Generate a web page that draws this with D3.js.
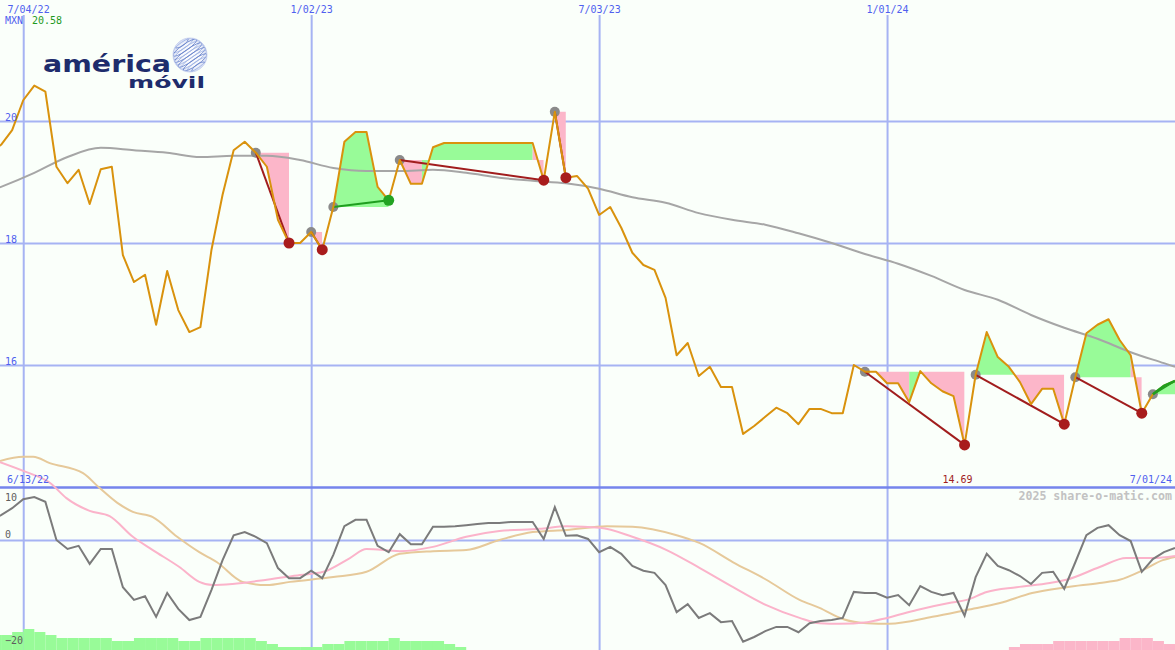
<!DOCTYPE html>
<html><head><meta charset="utf-8">
<script src="https://cdn.jsdelivr.net/npm/d3@7"></script>
<style>body{margin:0;background:#fafffa}svg{display:block}</style>
</head><body><svg id="c" width="1175" height="650"></svg>
<script>
// ---------- data ----------
const startDate = "2022-06-13";
const endDate = "2024-07-01";
const currency = "MXN";
const tickDates = ["2022-07-04","2023-01-02","2023-07-03","2024-01-01"];
const priceTicks = [16,18,20];
const oscTicks = [10,0,-20];

// weekly closes (week 0 = 6/13/22)
const closes = [
 19.49,19.61,19.85,20.34,20.58,20.48,19.25,18.98,19.20,18.64,
 19.21,19.25,17.80,17.36,17.48,16.66,17.54,16.90,16.54,16.62,
 17.89,18.79,19.52,19.66,19.48,19.25,18.38,18.00,18.00,18.18,
 17.89,18.59,19.66,19.82,19.82,18.92,18.70,19.36,18.97,18.97,
 19.57,19.64,19.64,19.64,19.64,19.64,19.64,19.64,19.64,19.64,
 19.03,20.15,19.07,19.10,18.89,18.46,18.59,18.25,17.84,17.64,
 17.56,17.10,16.16,16.36,15.82,15.97,15.64,15.64,14.87,15.00,
 15.15,15.30,15.21,15.03,15.28,15.28,15.21,15.21,16.00,15.89,
 15.89,15.70,15.70,15.39,15.90,15.70,15.57,15.49,14.69,15.84,
 16.54,16.13,15.97,15.72,15.36,15.61,15.61,15.03,15.80,16.52,
 16.66,16.75,16.41,16.16,15.21,15.52,15.66,15.74];

// long moving average (read at sample weeks)
const maWeeks  = [0,1,4,7,10,13,16,19,22,25,28,31,34,37,40,43,46,49,52,55,58,61,64,67,70,73,76,79,82,85,88,91,94,97,100,103,106,107];
const maValues = [18.85,18.92,19.15,19.41,19.56,19.52,19.48,19.41,19.43,19.43,19.36,19.23,19.18,19.18,19.20,19.15,19.07,19.02,18.98,18.89,18.75,18.66,18.49,18.38,18.30,18.16,18.00,17.82,17.66,17.46,17.23,17.07,16.82,16.61,16.43,16.21,16.03,15.97];

// trades: entry week, exit week
const tradeEntry = [24,29,31,37,51,79,89,98,105];
const tradeExit  = [27,30,36,50,52,88,97,104,107];
// shaded spans inside trades (trade #, from week, to week, rising?)
const spanTrade = [0,1,2,3,3,3,4,5,5,5,6,6,7,7,8];
const spanFrom  = [24,29,31,37,39,49,51,79,83,84,89,92.5,98,103,105];
const spanTo    = [27,30,36,39,49,50,52,83,84,88,92.5,97,103,104,107];
const spanUp    = [0,0,1,0,1,0,0,0,1,0,1,0,1,0,1];

// lower panel: oscillator (weekly)
const oscillator = [
 3.8,4.7,6.0,7.7,8.1,7.2,0,-1.7,-1.1,-4.5,
 -1.7,-1.7,-8.9,-11.3,-10.6,-14.5,-10.0,-13.0,-15.1,-14.5,
 -9.4,-3.8,0.9,1.5,0.6,-0.6,-5.3,-7.2,-7.2,-5.8,
 -7.2,-2.8,2.6,3.8,3.8,-1.1,-2.3,1.1,-0.8,-0.8,
 2.5,2.5,2.6,2.8,3.0,3.2,3.2,3.4,3.4,3.4,
 0.2,6.2,0.8,0.9,0.2,-2.3,-1.3,-2.6,-4.9,-5.8,
 -6.2,-8.5,-13.6,-12.1,-14.7,-13.8,-15.5,-15.3,-19.2,-18.3,
 -17.2,-16.4,-16.4,-17.4,-15.7,-15.3,-15.1,-14.7,-9.8,-10.0,
 -10.0,-10.9,-10.4,-12.3,-8.7,-9.8,-10.4,-10.0,-14.3,-7.0,
 -2.6,-4.9,-5.7,-6.8,-8.3,-6.2,-6.0,-9.2,-4.2,0.9,
 2.3,2.8,0.9,-0.2,-6.0,-3.6,-2.3,-1.5];
// fast signal (pink)
const fastWeeks  = [0.9,3.3,5.4,6.9,9.0,10.8,12.9,14.7,17.1,18.9,20.1,21.9,25.0,28.0,30.1,32.5,34.0,37.0,40.0,43.0,46.0,49.6,52.1,55.1,58.0,61.1,64.1,67.1,70.1,73.1,74.9,76.7,79.2,81.0,83.7,86.6,88.2,90.0,92.7,95.7,97.2,100.2,102.6,105.0,107.0];
const fastValues = [14.7,12.8,10.8,7.9,5.5,4.5,0.6,-1.9,-5.1,-7.9,-8.5,-8.3,-7.5,-6.6,-6.0,-3.4,-1.7,-2.1,-1.3,0.6,1.7,2.1,2.6,2.3,0.6,-1.9,-5.3,-8.9,-12.3,-14.7,-15.7,-15.8,-15.5,-14.7,-13.2,-11.9,-11.3,-9.8,-8.9,-8.1,-7.5,-5.1,-3.4,-3.4,-3.0];
// slow signal (tan)
const slowWeeks  = [0.9,3.0,3.9,5.4,8.4,9.9,11.5,12.9,14.7,16.9,18.9,20.5,22.8,25.0,27.1,31.0,34.0,37.0,40.0,43.0,46.0,49.0,52.1,55.7,58.0,62.0,64.1,67.1,70.1,73.1,74.9,77.0,79.2,81.2,85.1,88.2,91.2,94.1,97.2,100.2,102.0,104.1,105.9,107.0];
const slowValues = [14.9,15.7,15.7,14.5,12.6,9.8,7.0,5.3,4.3,0.6,-2.3,-4.2,-7.9,-8.5,-7.9,-7.0,-6.0,-2.6,-2.1,-1.9,0,1.5,1.9,2.6,2.5,0.9,-0.6,-4.2,-7.5,-11.3,-12.8,-14.9,-15.7,-15.8,-14.5,-13.2,-11.9,-10.0,-8.9,-8.1,-7.5,-5.7,-3.8,-3.2];
// bottom strength bars (weekly, + green / - pink)
const strength = [
 5,5,6,7,6,5,4,4,4,4,
 4,3,3,4,4,4,4,3,3,4,
 4,4,4,4,3,2,1,1,1,1,
 2,2,3,3,3,3,4,3,3,3,
 3,2,1,0,0,0,0,0,0,0,
 0,0,0,0,0,0,0,0,0,0,
 0,0,0,0,0,0,0,0,0,0,
 0,0,0,0,0,0,0,0,0,0,
 0,0,0,0,0,0,0,0,0,0,
 0,0,-1,-2,-2,-2,-3,-3,-3,-3,
 -3,-3,-4,-4,-4,-3,-2,-2];

// ---------- drawing ----------
const W = 1175, H = 650;
const svg = d3.select("#c");
const defs = svg.append("defs");
svg.append("rect").attr("width", W).attr("height", H).attr("fill", "#fafffa");

const parse = d3.utcParse("%Y-%m-%d");
const x = d3.scaleUtc().domain([parse(startDate), parse(endDate)]).range([-10, W]);
const t0 = parse(startDate).getTime();
const wk = i => new Date(t0 + i * 7 * 864e5);
const xi = i => x(wk(i));
const y = d3.scaleLinear().domain([16, 20]).range([365, 121]);
const yo = d3.scaleLinear().domain([-20, 10]).range([646, 487]);
const yb = d3.scaleLinear().domain([0, 7]).range([H, H - 21]);

const MONO = "DejaVu Sans Mono";
const BLUE = "#4f60ef";
const GRID = "#a6b3f3";

// vertical grid lines
const ticks = tickDates.map(parse);
svg.append("g").attr("transform", "translate(0,15)")
  .call(d3.axisBottom(x).tickValues(ticks).tickSize(H - 15).tickFormat(""))
  .call(g => g.select(".domain").remove())
  .call(g => g.selectAll("line").attr("stroke", GRID).attr("stroke-width", 2));

// upper horizontal grid
svg.append("g")
  .call(d3.axisRight(y).tickValues(priceTicks).tickSize(W).tickFormat(""))
  .call(g => g.select(".domain").remove())
  .call(g => g.selectAll("line").attr("stroke", GRID).attr("stroke-width", 2));

// lower grid: zero line + separator
svg.append("g")
  .call(d3.axisRight(yo).tickValues([0]).tickSize(W).tickFormat(""))
  .call(g => g.select(".domain").remove())
  .call(g => g.selectAll("line").attr("stroke", GRID).attr("stroke-width", 2));
svg.append("g")
  .call(d3.axisRight(yo).tickValues([10]).tickSize(W).tickFormat(""))
  .call(g => g.select(".domain").remove())
  .call(g => g.selectAll("line").attr("stroke", "#7585ec").attr("stroke-width", 2.5));

// strength bars
svg.append("g").selectAll("rect").data(strength.map((v, i) => ({v, i})).filter(d => d.v !== 0))
  .join("rect")
  .attr("x", d => xi(d.i)).attr("width", d => xi(d.i + 1) - xi(d.i))
  .attr("y", d => yb(Math.abs(d.v))).attr("height", d => H - yb(Math.abs(d.v)))
  .attr("fill", d => d.v > 0 ? "#98fb98" : "#fbb6c9");

// lower lines
const lineW = d3.line().x(d => xi(d[0])).y(d => yo(d[1])).curve(d3.curveMonotoneX);
svg.append("path").attr("d", lineW(slowWeeks.map((w, k) => [w, slowValues[k]])))
  .attr("fill", "none").attr("stroke", "#e6c99a").attr("stroke-width", 2);
svg.append("path").attr("d", lineW(fastWeeks.map((w, k) => [w, fastValues[k]])))
  .attr("fill", "none").attr("stroke", "#fbb3ca").attr("stroke-width", 2);
svg.append("path").attr("d", d3.line().x((d, i) => xi(i)).y(d => yo(d))(oscillator))
  .attr("fill", "none").attr("stroke", "#7b7b7b").attr("stroke-width", 2);

// trade shading
spanTrade.forEach((t, k) => {
  const e = tradeEntry[t], xo = tradeExit[t];
  const lvl = closes[e];
  const idx = d3.range(e, xo + 1);
  const area = d3.area().x(i => xi(i)).y0(y(lvl)).y1(i => y(closes[i]));
  defs.append("clipPath").attr("id", "sp" + k).append("rect")
    .attr("x", xi(spanFrom[k])).attr("width", xi(spanTo[k]) - xi(spanFrom[k]))
    .attr("y", 0).attr("height", H);
  svg.append("path").attr("d", area(idx))
    .attr("fill", spanUp[k] ? "#98fb98" : "#fcb6c9")
    .attr("clip-path", `url(#sp${k})`);
});

// moving average
svg.append("path")
  .attr("d", d3.line().x(d => xi(d[0])).y(d => y(d[1])).curve(d3.curveMonotoneX)(maWeeks.map((w, k) => [w, maValues[k]])))
  .attr("fill", "none").attr("stroke", "#a6a6a6").attr("stroke-width", 2);

// entry markers
svg.append("g").selectAll("circle").data(tradeEntry).join("circle")
  .attr("cx", i => xi(i)).attr("cy", i => y(closes[i])).attr("r", 5).attr("fill", "#8a8a8a");

// trade lines
svg.append("g").selectAll("line").data(tradeEntry.map((e, k) => ({e, xo: tradeExit[k]}))).join("line")
  .attr("x1", d => xi(d.e)).attr("y1", d => y(closes[d.e]))
  .attr("x2", d => xi(d.xo)).attr("y2", d => y(closes[d.xo]))
  .attr("stroke", d => closes[d.xo] > closes[d.e] ? "#1f9e1f" : "#a11d1d")
  .attr("stroke-width", 2);

// price line
svg.append("path").attr("d", d3.line().x((d, i) => xi(i)).y(d => y(d))(closes))
  .attr("fill", "none").attr("stroke", "#d9920d").attr("stroke-width", 2).attr("stroke-linejoin", "round");

// open trade overlay line (green, thicker)
tradeEntry.forEach((e, k) => {
  const xo = tradeExit[k];
  if (xo === closes.length - 1 && closes[xo] > closes[e]) {
    svg.append("path").attr("d", d3.line().x(i => xi(i)).y(i => y(closes[i]))(d3.range(e, xo + 1)))
      .attr("fill", "none").attr("stroke", "#1f9e1f").attr("stroke-width", 2.5);
  }
});

// exit markers
svg.append("g").selectAll("circle")
  .data(tradeEntry.map((e, k) => ({e, xo: tradeExit[k]})).filter(d => d.xo < closes.length - 1))
  .join("circle")
  .attr("cx", d => xi(d.xo)).attr("cy", d => y(closes[d.xo])).attr("r", 5.5)
  .attr("fill", d => closes[d.xo] > closes[d.e] ? "#22a322" : "#a81c1c");

// ---------- text ----------
const fmtDate = d3.utcFormat("%-m/%d/%y");
// top date labels
svg.append("g").attr("transform", "translate(0,13)")
  .call(d3.axisTop(x).tickValues(ticks).tickSize(0).tickPadding(0).tickFormat(fmtDate))
  .call(g => g.select(".domain").remove())
  .call(g => g.selectAll("text").attr("font-family", MONO).attr("font-size", 10).attr("fill", BLUE)
     .attr("dy", 0).attr("y", 0)
     .each(function(d) {
        const xx = x(d) + 1;
        if (xx - 21 < 7) d3.select(this).attr("text-anchor", "start").attr("x", 7 - xx + 1);
     }));

// price y labels
svg.append("g")
  .call(d3.axisRight(y).tickValues(priceTicks).tickSize(0).tickFormat(d3.format("d")))
  .call(g => g.select(".domain").remove())
  .call(g => g.selectAll("text").attr("x", 5).attr("dy", 0).attr("y", -1)
     .attr("text-anchor", "start").attr("font-family", MONO).attr("font-size", 10).attr("fill", BLUE));

// oscillator y labels
svg.append("g").selectAll("text").data(oscTicks).join("text")
  .attr("x", 5).attr("y", d => Math.max(yo(d) - 2, 501))
  .attr("font-family", MONO).attr("font-size", 10).attr("fill", "#5e5e5e")
  .text(d => d3.format("d")(d));

// currency + max value
const maxV = d3.max(closes);
svg.append("text").attr("x", 5).attr("y", 24).attr("font-family", MONO).attr("font-size", 10)
  .attr("fill", BLUE).text(currency);
svg.append("text").attr("x", 32).attr("y", 24).attr("font-family", MONO).attr("font-size", 10)
  .attr("fill", "#1f9a1f").text(d3.format(".2f")(maxV));

// start / end dates
svg.append("text").attr("x", 7).attr("y", 483).attr("font-family", MONO).attr("font-size", 10)
  .attr("fill", BLUE).text(fmtDate(parse(startDate)));
svg.append("text").attr("x", 1172).attr("y", 483).attr("text-anchor", "end").attr("font-family", MONO)
  .attr("font-size", 10).attr("fill", BLUE).text(fmtDate(parse(endDate)));

// min value label
const minI = d3.minIndex(closes);
svg.append("text").attr("x", xi(minI) + 8).attr("y", 483).attr("text-anchor", "end")
  .attr("font-family", MONO).attr("font-size", 10).attr("fill", "#a11d1d")
  .text(d3.format(".2f")(closes[minI]));

// copyright
svg.append("text").attr("x", 1172).attr("y", 500).attr("text-anchor", "end")
  .attr("font-family", MONO).attr("font-size", 11.6).attr("font-weight", "bold").attr("fill", "#c2c2c2")
  .text("2025 share-o-matic.com");

// ---------- logo ----------
const logo = svg.append("g");
logo.append("text").attr("x", 43).attr("y", 72).attr("font-family", "DejaVu Sans").attr("font-weight", "bold")
  .attr("font-size", 23).attr("textLength", 128).attr("lengthAdjust", "spacingAndGlyphs")
  .attr("fill", "#1e2c6c").text("américa");
logo.append("text").attr("x", 128).attr("y", 88).attr("font-family", "DejaVu Sans").attr("font-weight", "bold")
  .attr("font-size", 15).attr("textLength", 77).attr("lengthAdjust", "spacingAndGlyphs")
  .attr("fill", "#1e2c6c").text("móvil");
const grad = defs.append("radialGradient").attr("id", "gg");
grad.append("stop").attr("offset", "0%").attr("stop-color", "#ffffff");
grad.append("stop").attr("offset", "75%").attr("stop-color", "#f4f6fc");
grad.append("stop").attr("offset", "100%").attr("stop-color", "#d3dcf2");
defs.append("clipPath").attr("id", "gc").append("circle").attr("r", 17);
const globe = logo.append("g").attr("transform", "translate(190,55)");
globe.append("circle").attr("r", 17).attr("fill", "url(#gg)");
const gs = globe.append("g").attr("clip-path", "url(#gc)").append("g").attr("transform", "rotate(-35)");
d3.range(-15, 16, 3).forEach((k, j) => {
  const rx = Math.sqrt(Math.max(1, 289 - k * k));
  gs.append("ellipse").attr("cx", 0).attr("cy", k).attr("rx", rx).attr("ry", 3.2)
    .attr("fill", "none").attr("stroke", j % 2 ? "#9fb3e4" : "#6b86cc").attr("stroke-width", 0.8);
});
globe.append("circle").attr("r", 17).attr("fill", "none").attr("stroke", "#c3cdee").attr("stroke-width", 0.8);
</script></body></html>
